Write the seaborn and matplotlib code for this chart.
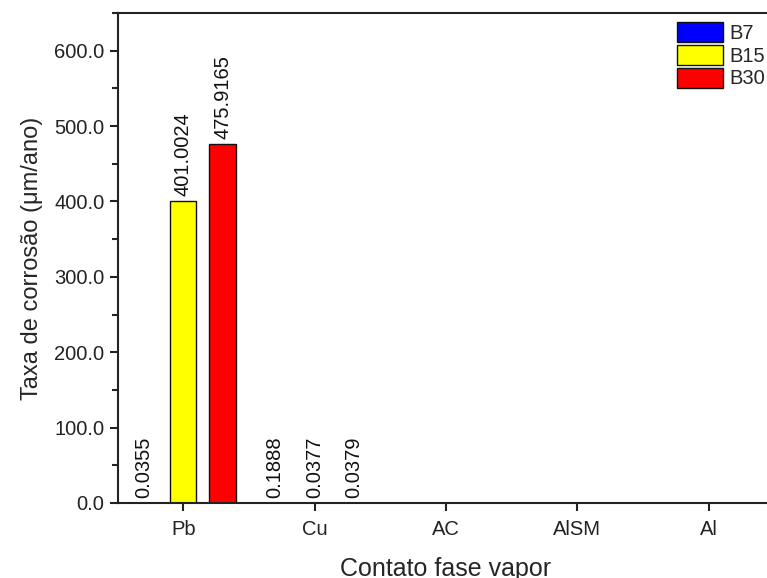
import numpy as np
import pandas as pd
import matplotlib
matplotlib.use("Agg")
import matplotlib.pyplot as plt
from matplotlib.ticker import MultipleLocator, FormatStrFormatter
import seaborn as sns

# Corrosion rates (µm/ano) in the vapour-phase contact, per material and series
categories = ["Pb", "Cu", "AC", "AlSM", "Al"]
series = ["B7", "B15", "B30"]
pb_values = [0.0355, 401.0024, 475.9165]
cu_values = [0.1888, 0.0377, 0.0379]
colors = ["#0000FF", "#FFFF00", "#FF0000"]

rows = []
for s, v in zip(series, pb_values):
    rows.append({"material": "Pb", "serie": s, "taxa": v})
for s, v in zip(series, cu_values):
    rows.append({"material": "Cu", "serie": s, "taxa": v})
df = pd.DataFrame(rows)

sns.set_style("ticks")
plt.rcParams["font.family"] = ["Liberation Sans", "DejaVu Sans"]

fig = plt.figure(figsize=(7.67, 5.78), dpi=100)
ax = fig.add_axes([117.5 / 767, 75 / 578, 657 / 767, 490 / 578])

sns.barplot(data=df, x="material", y="taxa", hue="serie", order=categories,
            hue_order=series, palette=colors, width=0.9, gap=0.33,
            errorbar=None, edgecolor="#111111", linewidth=1.0, saturation=1,
            ax=ax)

for cont in ax.containers:
    ax.bar_label(cont, fmt="%.4f", rotation=90, padding=3.5, fontsize=14.5,
                 color="#111111")

ax.set_xlim(-0.5, 4.5)
ax.set_ylim(0, 650)
ax.yaxis.set_major_locator(MultipleLocator(100))
ax.yaxis.set_minor_locator(MultipleLocator(50))
ax.yaxis.set_major_formatter(FormatStrFormatter("%.1f"))

for side in ["left", "bottom", "top", "right"]:
    ax.spines[side].set_linewidth(1.5)
    ax.spines[side].set_color("#222222")
ax.tick_params(axis="both", which="major", length=6, width=1.5,
               labelsize=14.5, direction="out", colors="#222222")
ax.tick_params(axis="y", which="minor", length=4, width=1.5, direction="out")
ax.tick_params(axis="x", which="major", pad=6)

ax.set_xlabel("Contato fase vapor", fontsize=18, labelpad=13)
ax.set_ylabel("Taxa de corrosão (μm/ano)", fontsize=17, labelpad=8)

handles, labels = ax.get_legend_handles_labels()
ax.legend(handles, labels, loc="upper left",
          bbox_to_anchor=(677 / 767, 1 - 22 / 578), bbox_transform=fig.transFigure,
          borderpad=0, borderaxespad=0, handlelength=2.3, handleheight=1.15,
          labelspacing=0.1, handletextpad=0.28, frameon=False, fontsize=14.5)

fig.savefig("out.png", dpi=100, facecolor="white")
